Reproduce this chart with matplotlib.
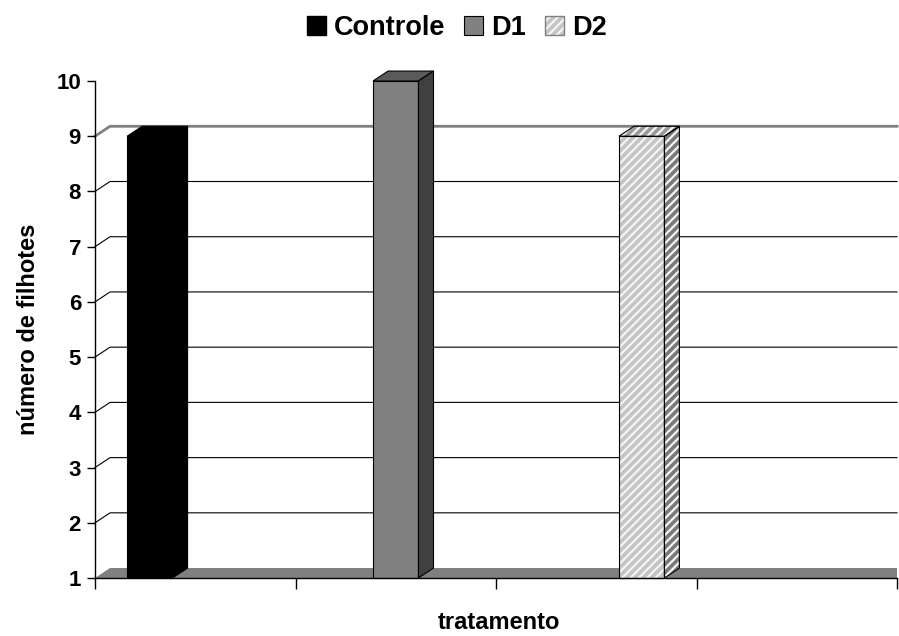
import numpy as np
import matplotlib.pyplot as plt
from matplotlib.patches import Polygon, Patch
from matplotlib.legend_handler import HandlerTuple

plt.rcParams['font.family'] = ['Liberation Sans', 'DejaVu Sans']
plt.rcParams['font.weight'] = 'bold'
plt.rcParams['hatch.linewidth'] = 1.6

# data
series = ["Controle", "D1", "D2"]
n_cat = 4
controle = [9, 0, 0, 0]
d1 = [0, 10, 0, 0]
d2 = [0, 0, 9, 0]
values = [controle, d1, d2]
yticks = list(range(1, 11))

# style per series: front, top, side, hatch colour (None = solid)
faces = [
    ("#000000", "#000000", "#000000", None),
    ("#808080", "#5a5a5a", "#404040", None),
    ("#c4c4c4", "#9a9a9a", "#7a7a7a", "#f4f4f4"),
]

ymin, ymax = 1, 10
dx, dy = 0.075, 0.18   # fake 3d depth offset (data units)
w = 0.2265             # bar width in category units

fig = plt.figure(figsize=(8.99, 6.36), dpi=100)
ax = fig.add_axes([95 / 899, 58 / 636, 802 / 899, 497 / 636])
ax.set_xlim(0, n_cat)
ax.set_ylim(ymin, ymax)


def face(pts, fc, hc, z):
    # filled face (optionally hatched) + black outline
    if hc is None:
        ax.add_patch(Polygon(pts, closed=True, fc=fc, ec="black", lw=0.8,
                             zorder=z, clip_on=False))
    else:
        ax.add_patch(Polygon(pts, closed=True, fc=fc, ec=hc, lw=0, hatch="////",
                             zorder=z, clip_on=False))
        ax.add_patch(Polygon(pts, closed=True, fc="none", ec="black", lw=0.8,
                             zorder=z + 0.1, clip_on=False))


# back wall gridlines
for v in yticks[1:-1]:
    col, lw = ("#808080", 2.0) if v == 9 else ("black", 0.8)
    ax.plot([0, dx, n_cat], [v, v + dy, v + dy], color=col, lw=lw,
            zorder=1, clip_on=False)

# floor
ax.add_patch(Polygon([(0, ymin), (n_cat, ymin), (n_cat, ymin + dy), (dx, ymin + dy)],
                     closed=True, fc="#808080", ec="none", zorder=2, clip_on=False))

# bars
for s, vals in enumerate(values):
    fc, tc, sc, hc = faces[s]
    for c, v in enumerate(vals):
        if v <= ymin:
            continue
        x0 = c + 0.5 + (s - 1.5) * w
        x1 = x0 + w
        face([(x0, ymin), (x1, ymin), (x1, v), (x0, v)], fc, hc, 3)
        face([(x0, v), (x1, v), (x1 + dx, v + dy), (x0 + dx, v + dy)], tc, hc, 3)
        face([(x1, ymin), (x1 + dx, ymin + dy), (x1 + dx, v + dy), (x1, v)], sc, hc, 3)

# axes styling
for sp in ["top", "right"]:
    ax.spines[sp].set_visible(False)
ax.spines["left"].set_linewidth(1.0)
ax.spines["bottom"].set_linewidth(1.0)
ax.spines["bottom"].set_zorder(5)
ax.set_yticks(yticks)
ax.set_xticks(np.arange(n_cat + 1))
ax.set_xticklabels([])
ax.tick_params(axis="y", length=6, width=1, labelsize=16, pad=4)
ax.tick_params(axis="x", length=8, width=1)
for t in ax.get_yticklabels():
    t.set_fontweight("bold")

ax.set_ylabel("número de filhotes", fontsize=17, fontweight="bold", labelpad=12)
fig.text(0.555, 0.003, "tratamento", fontsize=17, fontweight="bold", ha="center", va="bottom")

# legend
handles = [
    Patch(fc="black", ec="black"),
    Patch(fc="#808080", ec="black", lw=0.8),
    (Patch(fc="#c4c4c4", ec="#f4f4f4", lw=0, hatch="////"),
     Patch(fc="none", ec="#808080", lw=1)),
]
fig.legend(handles, series, loc="upper center", bbox_to_anchor=(0.508, 1.015), ncol=3,
           frameon=False, handlelength=0.7, handleheight=0.7,
           handletextpad=0.3, columnspacing=0.7, prop={"weight": "bold", "size": 19.5},
           handler_map={tuple: HandlerTuple(ndivide=1)})

fig.savefig("out.png", dpi=100)
